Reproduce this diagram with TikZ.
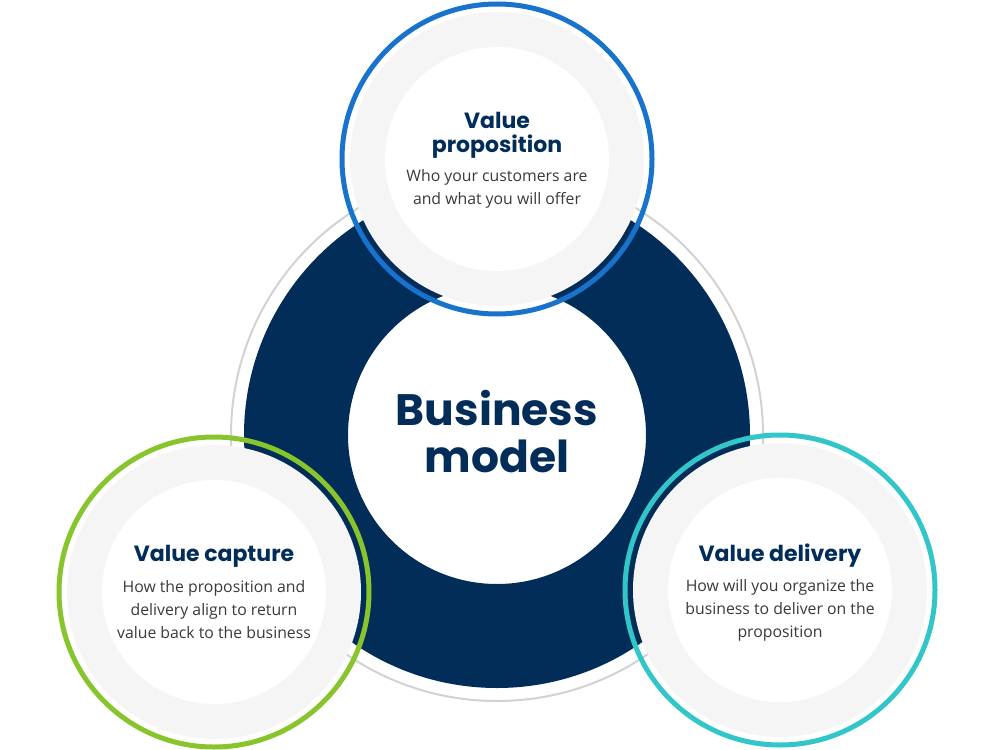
\documentclass[tikz,border=0pt]{standalone}
\usepackage{fontspec}
\setmainfont{Open Sans}
\newfontfamily\headfont{Poppins}
\usepackage{tikz}
\definecolor{navyblue}{RGB}{2, 45, 88}
\definecolor{propblue}{RGB}{24, 115, 205}
\definecolor{capgreen}{RGB}{136, 196, 44}
\definecolor{delteal}{RGB}{50, 198, 200}
\definecolor{softgray}{RGB}{245, 245, 245}
\definecolor{linegray}{RGB}{210, 210, 210}
\definecolor{textgray}{RGB}{58, 58, 58}

\begin{document}
\begin{tikzpicture}[x=1bp, y=-1bp,
    heading/.style={align=center, text=navyblue, font=\headfont\bfseries\fontsize{22bp}{24bp}\selectfont},
    caption/.style={align=center, text=textgray, font=\fontsize{15.8bp}{23bp}\selectfont},
    corelabel/.style={align=center, text=navyblue, font=\headfont\bfseries\fontsize{44bp}{47bp}\selectfont},
    ring/.style={line width=5bp}
]
\useasboundingbox (0,0) rectangle (1000,750);

% Centres
\coordinate (core) at (497,435);
\coordinate (prop) at (497,159);
\coordinate (cap) at (214,592);
\coordinate (del) at (780,590);

% Business model ring
\draw[linegray, line width=2bp] (core) circle[radius=266];
\fill[navyblue, even odd rule] (core) circle[radius=253] (core) circle[radius=149];

% Three value circles
\foreach \c/\col in {prop/propblue, cap/capgreen, del/delteal} {
    \fill[softgray] (\c) circle[radius=147];
    \fill[white] (\c) circle[radius=112];
    \draw[ring, \col] (\c) circle[radius=155];
}

% Labels
\node[corelabel] (model) at (497,432) {Business\\model};

\node[heading] (propTitle) at (497,135) {Value\\proposition};
\node[caption] (propText) at (497,189) {Who your customers are\\and what you will offer};

\node[heading] (capTitle) at (214,556) {Value capture};
\node[caption] (capText) at (214,610) {How the proposition and\\delivery align to return\\value back to the business};

\node[heading] (delTitle) at (780,556) {Value delivery};
\node[caption] (delText) at (780,610) {How will you organize the\\business to deliver on the\\proposition};

\end{tikzpicture}
\end{document}
